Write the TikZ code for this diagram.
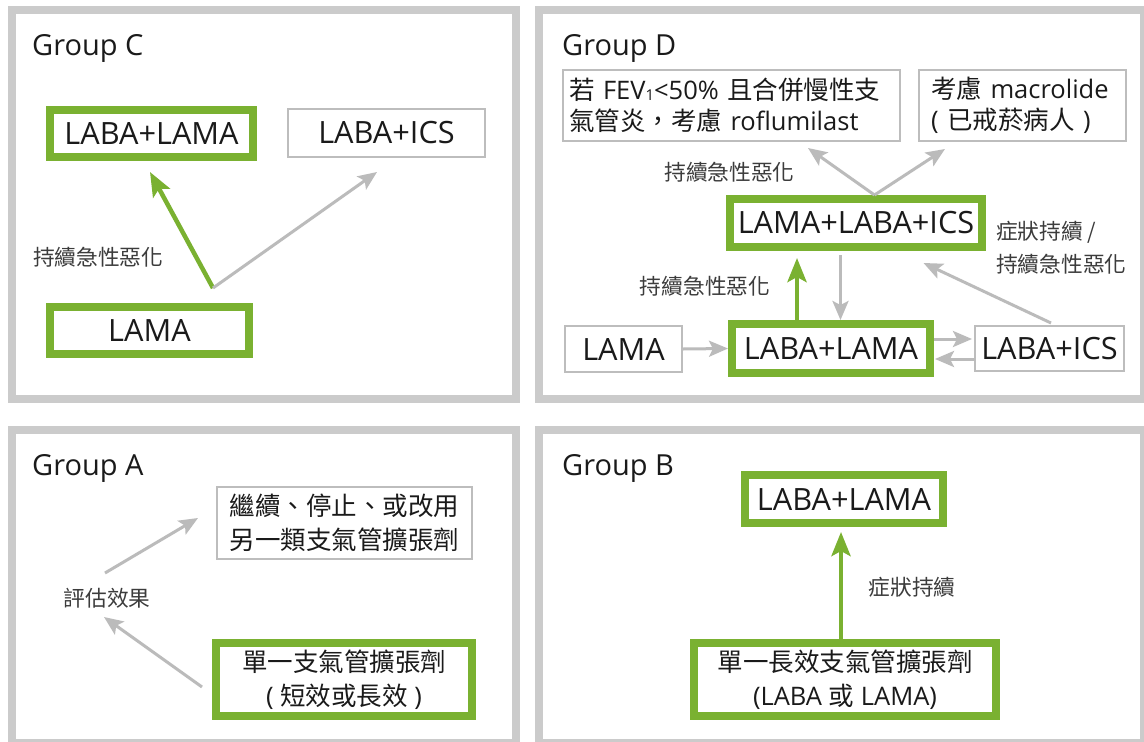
\documentclass[tikz,border=0pt]{standalone}
\usepackage{fontspec}
\setmainfont{Open Sans}
\newfontfamily\cjk{Noto Sans CJK TC}
\usetikzlibrary{arrows.meta}
\definecolor{grn}{HTML}{7AB131}
\definecolor{pgray}{HTML}{CBCBCB}
\definecolor{bgray}{HTML}{BDBDBD}
\definecolor{agray}{HTML}{BBBBBB}
\definecolor{txt}{HTML}{1A1A1A}
\newcommand{\cj}[1]{{\cjk #1}}
\begin{document}
\begin{tikzpicture}[x=1pt,y=-1pt,
 panel/.style={draw=pgray,line width=8pt},
 gbox/.style={draw=grn,line width=8pt,fill=white,inner sep=0pt,text=txt},
 tbox/.style={draw=bgray,line width=2pt,fill=white,inner sep=0pt,text=txt},
 big/.style={font=\fontsize{30.7}{36}\selectfont},
 mid/.style={font=\fontsize{25.5}{33.5}\selectfont},
 lbl/.style={font=\fontsize{21.7}{33}\selectfont\cjk,text=txt!85,inner sep=0pt},
 ttl/.style={font=\fontsize{29}{34}\selectfont,text=txt,inner sep=0pt,anchor=base west},
 garr/.style={draw=agray,line width=3pt,-{Stealth[length=19pt,width=16pt,inset=4pt]}},
 narr/.style={draw=grn,line width=4.5pt,-{Stealth[length=24pt,width=19pt,inset=5pt]}},
]
\useasboundingbox (0,0) rectangle (1144,742);
\fill[white] (0,0) rectangle (1144,742);
% panels
\draw[panel] (11.5,10) rectangle (515.5,398.5);
\draw[panel] (539,10) rectangle (1144,398.5);
\draw[panel] (11.5,430) rectangle (515.5,743);
\draw[panel] (539,430) rectangle (1144,743);
% titles
\node[ttl] (tC) at (32,55) {Group C};
\node[ttl] (tD) at (562,55) {Group D};
\node[ttl] (tA) at (32,475) {Group A};
\node[ttl] (tB) at (562,475) {Group B};

% ---- Group C
\node[gbox,big,minimum width=203pt,minimum height=47pt] (C_lablama) at (151.5,133.5) {LABA+LAMA};
\node[tbox,big,minimum width=197pt,minimum height=48pt] (C_labaics) at (386.5,133) {LABA+ICS};
\node[gbox,big,minimum width=199pt,minimum height=47pt] (C_lama) at (149.5,330.5) {LAMA};
\node[lbl,anchor=west] (C_lbl) at (33,257) {持續急性惡化};
\coordinate (Cfork) at ([shift={(63.5,-15)}]C_lama.north);
\draw[narr] (Cfork) -- ([shift={(-1.5,11)}]C_lablama.south);
\draw[garr] (Cfork) -- ([shift={(-9.5,14)}]C_labaics.south);

% ---- Group D
\node[tbox,mid,minimum width=337pt,minimum height=71pt,text width=325pt,align=left,font=\fontsize{25.5}{31.5}\selectfont] (D_roflu) at (731.5,105.5)
 {\cj{若} FEV\raisebox{-1pt}{\fontsize{15}{15}\selectfont 1}<50\% \cj{且合併慢性支}\\\cj{氣管炎，考慮} roflumilast};
\node[tbox,mid,minimum width=207pt,minimum height=71pt,text width=183pt,align=left,font=\fontsize{25.5}{31.5}\selectfont] (D_macro) at (1022.5,105.5)
 {\cj{考慮} macrolide\\( \cj{已戒菸病人} )};
\node[gbox,big,minimum width=252pt,minimum height=48pt] (D_triple) at (856,223) {LAMA+LABA+ICS};
\node[tbox,big,minimum width=117pt,minimum height=46pt] (D_lama) at (623.5,349) {LAMA};
\node[gbox,big,minimum width=198pt,minimum height=49pt] (D_dual) at (831,348.5) {LABA+LAMA};
\node[tbox,big,minimum width=149pt,minimum height=45pt] (D_ics) at (1049.5,348.5) {LABA+ICS};
\node[lbl] (D_lbl1) at (729.5,172) {持續急性惡化};
\node[lbl,align=left,anchor=west] (D_lbl2) at (996,247.5) {症狀持續 /\\持續急性惡化};
\node[lbl] (D_lbl3) at (705,286) {持續急性惡化};
\coordinate (Dfork) at ([shift={(18.5,0)}]D_triple.north);
\draw[garr] (Dfork) -- ([shift={(76.5,6)}]D_roflu.south);
\draw[garr] (Dfork) -- ([shift={(-77.5,7)}]D_macro.south);
\draw[narr] ([shift={(-34,0)}]D_dual.north) -- ([shift={(-59,7)}]D_triple.south);
\draw[garr] ([shift={(-15.5,4)}]D_triple.south) -- ([shift={(9.5,0)}]D_dual.north);
\draw[garr] ([shift={(1.5,-2)}]D_ics.north) -- ([shift={(-62.5,12)}]D_triple.south east);
\draw[garr] (D_lama.east) -- (D_dual.west);
\draw[garr] ([shift={(0,-9.5)}]D_dual.east) -- ([shift={(-2,-9.5)}]D_ics.west);
\draw[garr] ([shift={(1,10.5)}]D_ics.west) -- ([shift={(1,10.5)}]D_dual.east);

% ---- Group A
\node[tbox,mid,minimum width=255pt,minimum height=72pt,align=center] (A_alt) at (344.5,523)
 {\cj{繼續、停止、或改用}\\\cj{另一類支氣管擴張劑}};
\node[gbox,mid,minimum width=256pt,minimum height=73pt,align=center] (A_single) at (344,679.5)
 {\cj{單一支氣管擴張劑}\\( \cj{短效或長效} )};
\node[lbl] (A_eval) at (107,598) {評估效果};
\draw[garr] ([shift={(-2,-25)}]A_eval.center) -- ([shift={(-18,-5)}]A_alt.west);
\draw[garr] ([shift={(-10,7.5)}]A_single.west) -- ([shift={(-3,19)}]A_eval.center);

% ---- Group B
\node[gbox,big,minimum width=198pt,minimum height=48pt] (B_dual) at (844,499) {LABA+LAMA};
\node[gbox,mid,minimum width=302pt,minimum height=73pt,align=center] (B_single) at (845,679.5)
 {\cj{單一長效支氣管擴張劑}\\(LABA \cj{或} LAMA)};
\node[lbl] (B_lbl) at (912,587) {症狀持續};
\draw[narr] ([shift={(-4,0)}]B_single.north) -- ([shift={(-3,5)}]B_dual.south);
\end{tikzpicture}
\end{document}
